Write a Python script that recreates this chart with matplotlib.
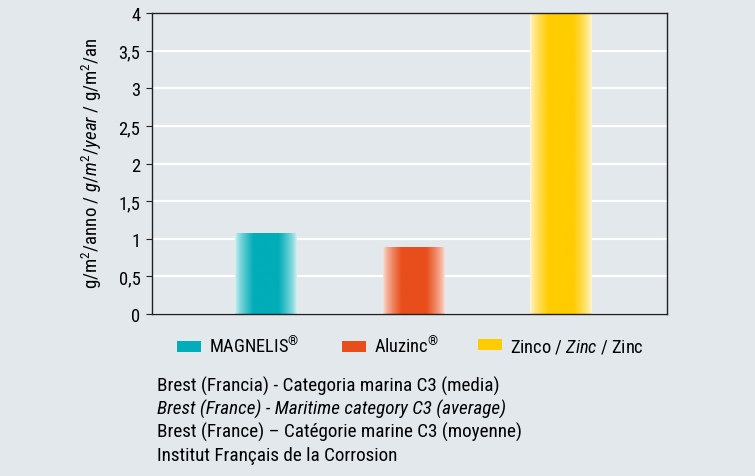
import numpy as np
import matplotlib
matplotlib.use("Agg")
import matplotlib.pyplot as plt
from matplotlib import font_manager
from matplotlib.patches import Patch
from matplotlib.colors import to_rgb
from matplotlib.ticker import FuncFormatter, MultipleLocator

# data
materials = ['MAGNELIS$^{®}$', 'Aluzinc$^{®}$', r'Zinco / $\mathit{Zinc}$ / Zinc']
values = [1.07, 0.89, 4.0]
colors = ['#00adb8', '#e84e1b', '#ffcc00']
caption = ['Brest (Francia) - Categoria marina C3 (media)',
           'Brest (France) - Maritime category C3 (average)',
           'Brest (France) – Catégorie marine C3 (moyenne)',
           'Institut Français de la Corrosion']

# pick a condensed face if one is installed
names = set(f.name for f in font_manager.fontManager.ttflist)
fam = 'Liberation Sans'
for cand in ['Roboto Condensed', 'Open Sans Condensed', 'Liberation Sans Narrow',
             'Noto Sans Condensed', 'DejaVu Sans Condensed']:
    if cand in names:
        fam = cand
        break

plt.rcParams['font.family'] = [fam, 'DejaVu Sans']
plt.rcParams['mathtext.fontset'] = 'custom'
plt.rcParams['mathtext.rm'] = fam
plt.rcParams['mathtext.it'] = fam + ':italic'
bg = '#e3e8ec'
W, H = 755, 477

fig = plt.figure(figsize=(7.55, 4.77), dpi=100, facecolor=bg)
ax = fig.add_axes([0.2013, 0.3396, 0.682, 0.631], facecolor=bg)

x = np.arange(len(values))
width = 0.415
bars = ax.bar(x, values, width, color='none', zorder=2)

# gradient fill: pale at the edges, full colour in the middle
n = 200
u = np.linspace(0, 1, n)
d = np.minimum(u, 1 - u) / 0.3
prof = np.clip(d, 0, 1) ** 0.7
for b, c in zip(bars, colors):
    rgb = np.array(to_rgb(c))
    pale = 1 - (1 - rgb) * 0.15
    img = pale[None, :] * (1 - prof[:, None]) + rgb[None, :] * prof[:, None]
    img = img[None, :, :]
    x0, y0 = b.get_x(), b.get_y()
    ax.imshow(img, extent=[x0, x0 + b.get_width(), y0, y0 + b.get_height()],
              aspect='auto', zorder=2, interpolation='bilinear')

ax.set_xlim(-0.773, 2.72)
ax.set_ylim(0, 4)
ax.yaxis.set_major_locator(MultipleLocator(0.5))
ax.yaxis.set_major_formatter(FuncFormatter(lambda v, p: ('%g' % v).replace('.', ',')))
ax.set_xticks([])
ax.grid(axis='y', color='white', linewidth=1.6, zorder=1)
ax.set_axisbelow(True)
for s in ax.spines.values():
    s.set_color('#222222')
    s.set_linewidth(1.0)
ax.tick_params(axis='y', labelsize=13.3, length=4.5, color='#222222', pad=3.8)
fig.text(92 / W, 1 - 163 / H, r'g/m$^2$/anno / $\mathit{g/m^2/year}$ / g/m$^2$/an',
         fontsize=13.6, rotation=90, ha='center', va='center')

# one legend per entry so each sits where it does in the original
leg_x = [177, 342, 478]
for lx, c, lab in zip(leg_x, colors, materials):
    leg = fig.legend([Patch(facecolor=c, edgecolor='none')], [lab], loc='center left',
                     bbox_to_anchor=(lx / W, 1 - 347 / H), frameon=False, fontsize=13.2,
                     handlelength=1.3, handleheight=0.55, handletextpad=0.45,
                     borderpad=0, borderaxespad=0)

for i, line in enumerate(caption):
    fig.text(157 / W, 1 - (386 + i * 23.4) / H, line, fontsize=13.8,
             style='italic' if i == 1 else 'normal', va='center')

fig.savefig('out.png', dpi=100, facecolor=bg)
